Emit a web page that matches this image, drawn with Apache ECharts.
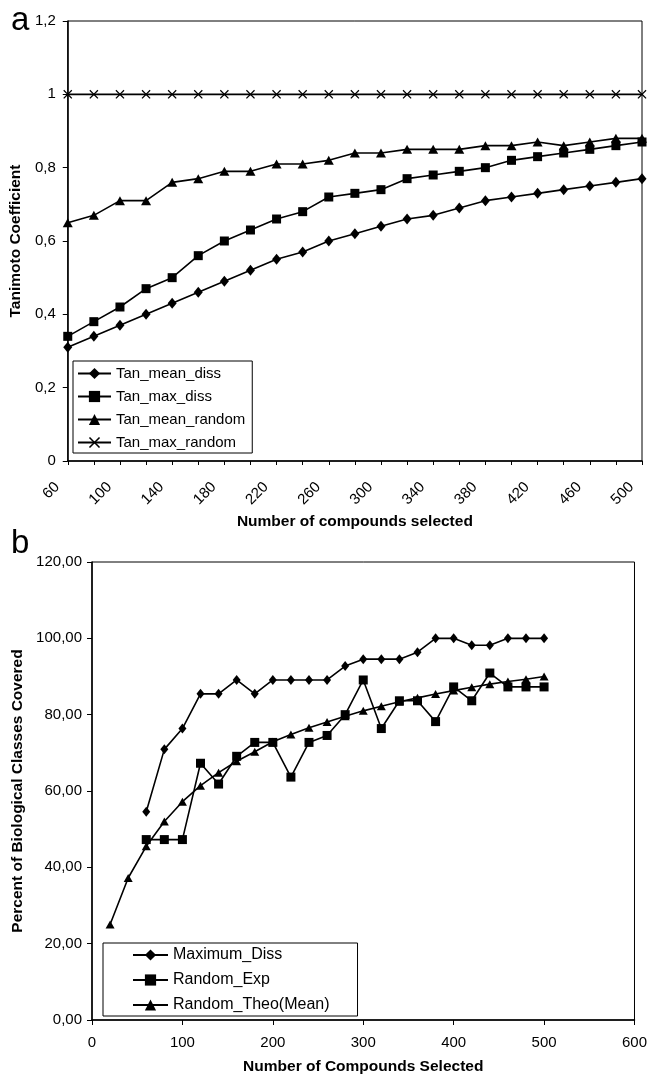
<!DOCTYPE html>
<html><head><meta charset="utf-8">
<script src="https://cdn.jsdelivr.net/npm/echarts@6/dist/echarts.min.js"></script>
<style>html,body{margin:0;padding:0;background:#fff}#c{width:650px;height:1076px}</style>
</head><body><div id="c"></div>
<script>
// ---- Panel a: Tanimoto coefficient vs compounds selected ----
const compoundsA = ['60','80','100','120','140','160','180','200','220','240','260','280','300','320','340','360','380','400','420','440','460','480','500'];
const tanMeanDiss   = [0.31,0.34,0.37,0.40,0.43,0.46,0.49,0.52,0.55,0.57,0.60,0.62,0.64,0.66,0.67,0.69,0.71,0.72,0.73,0.74,0.75,0.76,0.77];
const tanMaxDiss    = [0.34,0.38,0.42,0.47,0.50,0.56,0.60,0.63,0.66,0.68,0.72,0.73,0.74,0.77,0.78,0.79,0.80,0.82,0.83,0.84,0.85,0.86,0.87];
const tanMeanRandom = [0.65,0.67,0.71,0.71,0.76,0.77,0.79,0.79,0.81,0.81,0.82,0.84,0.84,0.85,0.85,0.85,0.86,0.86,0.87,0.86,0.87,0.88,0.88];
const tanMaxRandom  = [1,1,1,1,1,1,1,1,1,1,1,1,1,1,1,1,1,1,1,1,1,1,1];

// ---- Panel b: percent of biological classes covered ----
const xDiss   = [60,80,100,120,140,160,180,200,220,240,260,280,300,320,340,360,380,400,420,440,460,480,500];
const maxDiss = [54.55,70.91,76.36,85.45,85.45,89.09,85.45,89.09,89.09,89.09,89.09,92.73,94.55,94.55,94.55,96.36,100,100,98.18,98.18,100,100,100];
const xExp    = [60,80,100,120,140,160,180,200,220,240,260,280,300,320,340,360,380,400,420,440,460,480,500];
const randomExp = [47.27,47.27,47.27,67.27,61.82,69.09,72.73,72.73,63.64,72.73,74.55,80.00,89.09,76.36,83.64,83.64,78.18,87.27,83.64,90.91,87.27,87.27,87.27];
const xTheo   = [20,40,60,80,100,120,140,160,180,200,220,240,260,280,300,320,340,360,380,400,420,440,460,480,500];
const randomTheo = [25.0,37.2,45.5,52.0,57.2,61.4,64.8,67.8,70.3,72.9,74.8,76.6,78.1,79.6,81.0,82.2,83.4,84.4,85.4,86.3,87.2,88.0,88.7,89.3,90.0];

const FONT = "'Liberation Sans', Arial, sans-serif";
const BLACK = '#000';
const X_PATH = 'path://M0,1L1,0L5,4L9,0L10,1L6,5L10,9L9,10L5,6L1,10L0,9L4,5Z';
const zip = (xs, ys) => xs.map((x, i) => [x, ys[i]]);

function lineSeries(name, data, symbol, size, xi, yi) {
  return {
    type: 'line', name, data, symbol, symbolSize: size, xAxisIndex: xi, yAxisIndex: yi,
    showAllSymbol: true, animation: false,
    lineStyle: { color: BLACK, width: 1.6 },
    itemStyle: { color: BLACK, borderColor: BLACK, borderWidth: 0 },
    emphasis: { disabled: true }
  };
}

const axisLineStyle = { show: true, lineStyle: { color: BLACK, width: 1.5 } };
const tickStyle = { show: true, length: 5, lineStyle: { color: BLACK, width: 1 } };
const labelStyle = { color: BLACK, fontSize: 15, fontFamily: FONT };
const nameStyle = { color: BLACK, fontSize: 15.5, fontWeight: 'bold', fontFamily: FONT };

const chart = echarts.init(document.getElementById('c'), null, { renderer: 'canvas' });
chart.setOption({
  backgroundColor: '#fff',
  animation: false,
  textStyle: { fontFamily: FONT },
  graphic: [
    { type: 'text', left: 11, top: 4, style: { text: 'a', fontSize: 33, fontFamily: FONT, fill: BLACK } },
    { type: 'text', left: 11, top: 527, style: { text: 'b', fontSize: 33, fontFamily: FONT, fill: BLACK } }
  ],
  grid: [
    { left: 67, top: 21, width: 575, height: 440, show: true, borderColor: BLACK, borderWidth: 1, backgroundColor: 'transparent', containLabel: false },
    { left: 92, top: 562, width: 546, height: 459, show: true, borderColor: BLACK, borderWidth: 1, backgroundColor: 'transparent', containLabel: false }
  ],
  legend: [
    {
      orient: 'vertical', left: 73, top: 361,
      data: ['Tan_mean_diss', 'Tan_max_diss', 'Tan_mean_random', 'Tan_max_random'],
      itemWidth: 33, itemHeight: 14, itemGap: 8,
      padding: [5, 7, 3, 4],
      backgroundColor: '#fff', borderColor: BLACK, borderWidth: 1, borderRadius: 0,
      textStyle: { color: BLACK, fontSize: 15, fontFamily: FONT },
      selectedMode: false
    },
    {
      orient: 'vertical', left: 103, top: 943,
      data: ['Maximum_Diss', 'Random_Exp', 'Random_Theo(Mean)'],
      itemWidth: 35, itemHeight: 14, itemGap: 9,
      padding: [4, 28, 3, 29],
      backgroundColor: '#fff', borderColor: BLACK, borderWidth: 1, borderRadius: 0,
      textStyle: { color: BLACK, fontSize: 16, fontFamily: FONT },
      selectedMode: false
    }
  ],
  xAxis: [
    {
      type: 'category', gridIndex: 0, data: compoundsA, boundaryGap: false,
      axisLine: axisLineStyle,
      axisTick: { show: true, length: 4, interval: 0, lineStyle: { color: BLACK, width: 1 } },
      axisLabel: Object.assign({ interval: 1, rotate: 45, margin: 13, padding: [0, 15, 0, 0] }, labelStyle),
      splitLine: { show: false },
      name: 'Number of compounds selected', nameLocation: 'middle', nameGap: 53, nameTextStyle: nameStyle
    },
    {
      type: 'value', gridIndex: 1, min: 0, max: 600, interval: 100,
      axisLine: axisLineStyle, axisTick: tickStyle,
      axisLabel: Object.assign({ margin: 15 }, labelStyle),
      splitLine: { show: false },
      name: 'Number of Compounds Selected', nameLocation: 'middle', nameGap: 39, nameTextStyle: nameStyle
    }
  ],
  yAxis: [
    {
      type: 'value', gridIndex: 0, min: 0, max: 1.2, interval: 0.2,
      axisLine: axisLineStyle, axisTick: tickStyle,
      axisLabel: Object.assign({ margin: 12, formatter: v => String(Math.round(v * 10) / 10).replace('.', ',') }, labelStyle),
      splitLine: { show: false },
      name: 'Tanimoto Coefficient', nameLocation: 'middle', nameGap: 42, nameTextStyle: nameStyle
    },
    {
      type: 'value', gridIndex: 1, min: 0, max: 120, interval: 20,
      axisLine: axisLineStyle, axisTick: tickStyle,
      axisLabel: Object.assign({ margin: 10, formatter: v => v.toFixed(2).replace('.', ',') }, labelStyle),
      splitLine: { show: false },
      name: 'Percent of Biological Classes Covered', nameLocation: 'middle', nameGap: 66, nameTextStyle: nameStyle
    }
  ],
  series: [
    lineSeries('Tan_mean_diss', tanMeanDiss, 'diamond', [9, 11], 0, 0),
    lineSeries('Tan_max_diss', tanMaxDiss, 'rect', 9, 0, 0),
    lineSeries('Tan_mean_random', tanMeanRandom, 'triangle', [10, 9], 0, 0),
    lineSeries('Tan_max_random', tanMaxRandom, X_PATH, 9, 0, 0),
    lineSeries('Maximum_Diss', zip(xDiss, maxDiss), 'diamond', [8, 10], 1, 1),
    lineSeries('Random_Exp', zip(xExp, randomExp), 'rect', 9, 1, 1),
    lineSeries('Random_Theo(Mean)', zip(xTheo, randomTheo), 'triangle', [9, 8], 1, 1)
  ]
});
</script>
</body></html>
